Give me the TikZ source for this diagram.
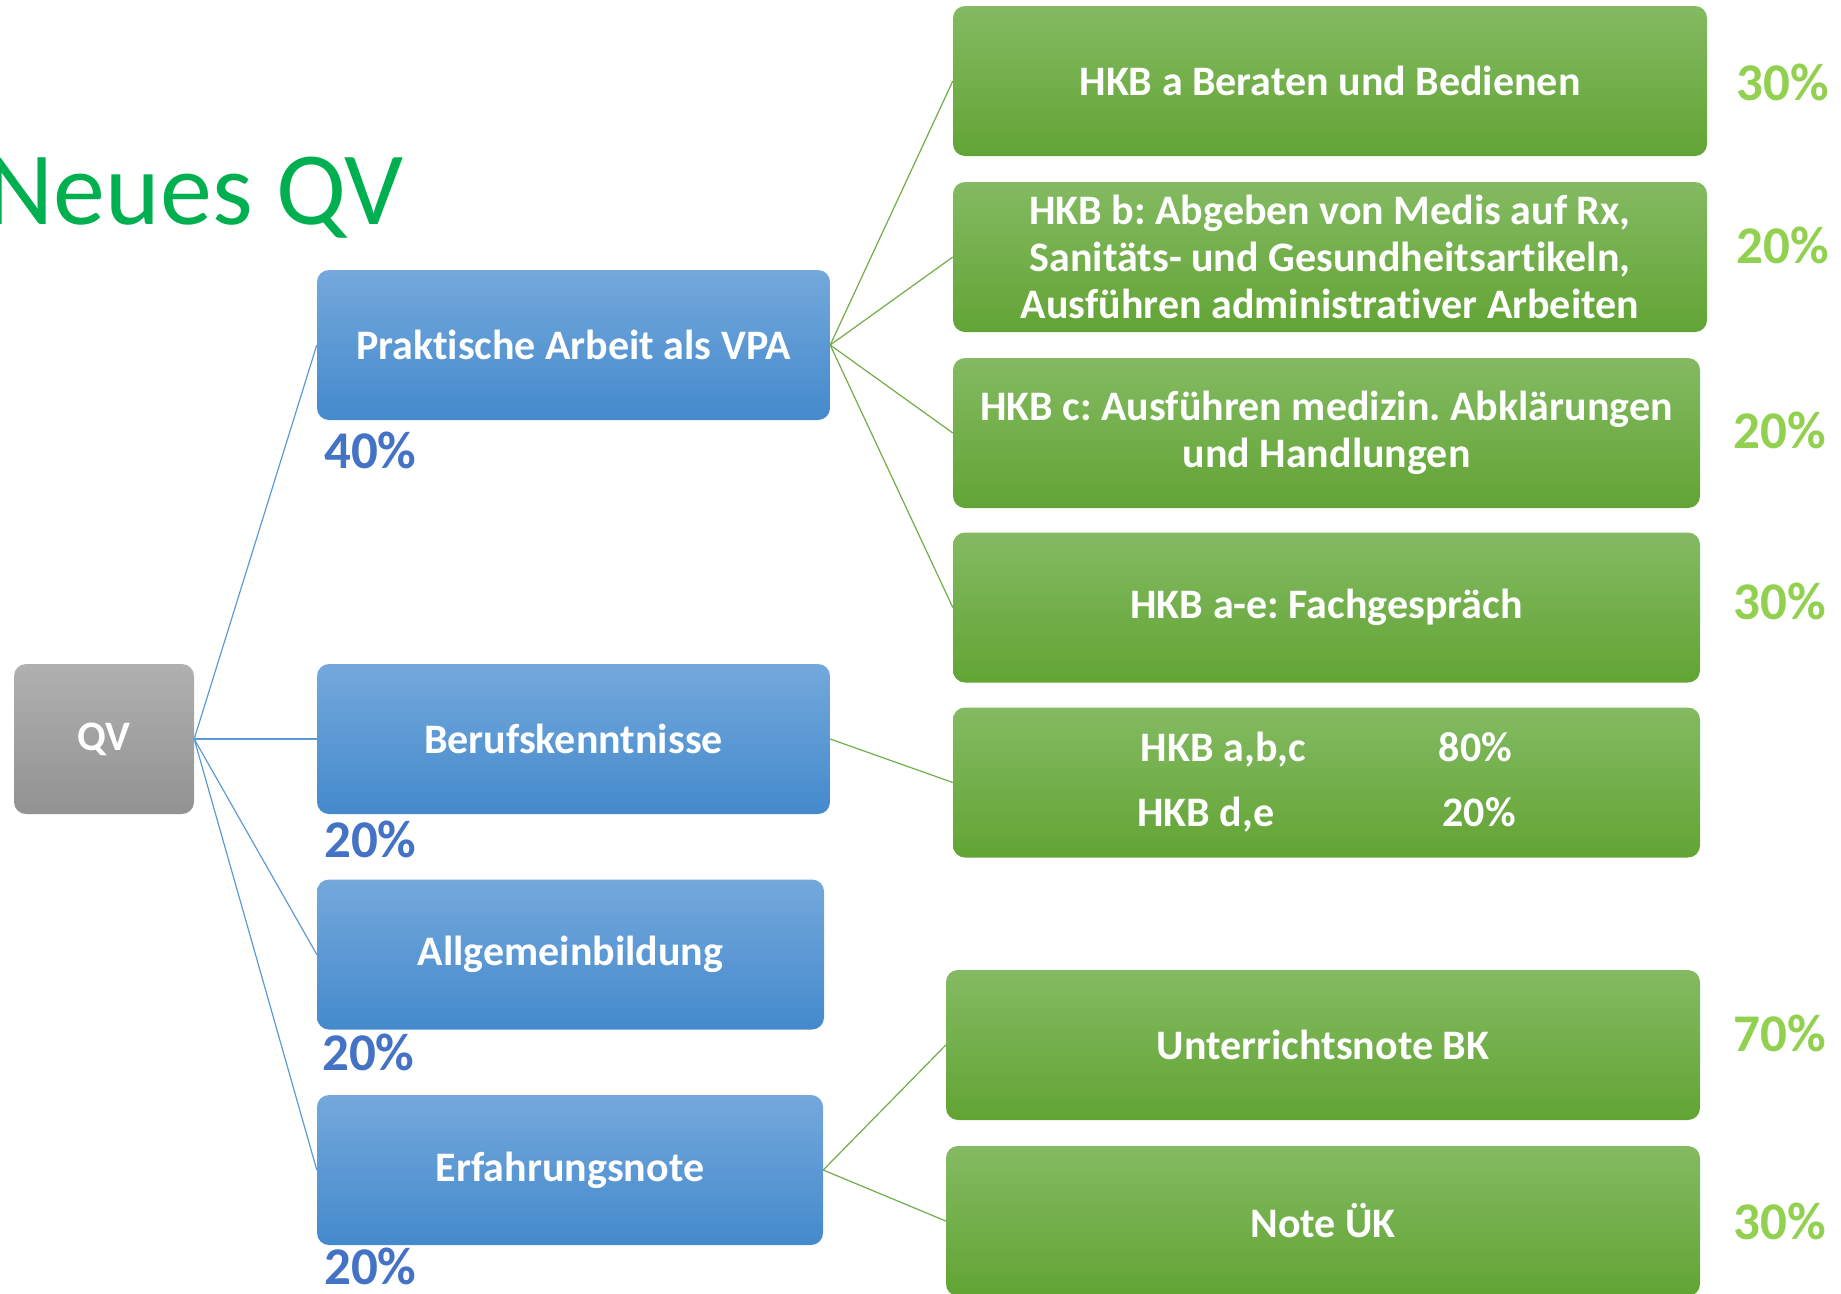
\documentclass[tikz,border=0pt]{standalone}
\usepackage{fontspec}
\setmainfont{Carlito}[Ligatures=NoCommon]
\begin{document}
\frenchspacing
\begin{tikzpicture}[x=1pt,y=-1pt,
  boxtext/.style={font=\fontsize{42}{47}\selectfont\bfseries, text=white, align=center},
  card/.style={boxtext, rounded corners=12pt, minimum height=150pt, inner sep=0pt},
  graycard/.style={card, top color=grayTop, bottom color=grayBot},
  bluecard/.style={card, top color=blueTop, bottom color=blueBot},
  greencard/.style={card, top color=greenTop, bottom color=greenBot},
  bluelink/.style={draw=blueLine, line width=1.2pt},
  greenlink/.style={draw=greenLine, line width=1.2pt},
  bluepct/.style={font=\fontsize{53}{60}\selectfont\bfseries, text=pctBlue, inner sep=0pt, anchor=west},
  greenpct/.style={font=\fontsize{53}{60}\selectfont\bfseries, text=pctGreen, inner sep=0pt},
]
\definecolor{grayTop}{RGB}{176,176,176}
\definecolor{grayBot}{RGB}{146,146,146}
\definecolor{blueTop}{RGB}{116,168,220}
\definecolor{blueBot}{RGB}{68,138,204}
\definecolor{greenTop}{RGB}{132,186,98}
\definecolor{greenBot}{RGB}{98,164,52}
\definecolor{blueLine}{RGB}{91,155,213}
\definecolor{greenLine}{RGB}{112,173,71}
\definecolor{pctBlue}{RGB}{68,114,196}
\definecolor{pctGreen}{RGB}{146,208,80}
\definecolor{titleGreen}{RGB}{0,176,80}

\useasboundingbox (0,0) rectangle (1841,1293);

% title
\node[anchor=base east, inner sep=0pt, text=titleGreen,
      font=\fontsize{104}{110}\selectfont] (title) at (404,224) {Neues QV};

% root
\node[graycard, minimum width=180pt] (qv) at (104,739) {QV};

% first level
\node[bluecard, minimum width=513pt] (prak) at (573.5,345) {Praktische Arbeit als VPA};
\node[bluecard, minimum width=513pt] (beruf) at (573.5,739) {Berufskenntnisse};
\node[bluecard, minimum width=507pt] (allg) at (570.5,954.5) {Allgemeinbildung};
\node[bluecard, minimum width=506pt] (erf) at (570,1170) {Erfahrungsnote};

% weights of the first level
\node[bluepct] (wprak) at (324,450) {40\%};
\node[bluepct] (wberuf) at (324,839) {20\%};
\node[bluepct] (wallg) at (322,1052) {20\%};
\node[bluepct] (werf) at (324,1266) {20\%};

% second level
\node[greencard, minimum width=754pt] (hkba) at (1330,81) {HKB a Beraten und Bedienen};
\node[greencard, minimum width=754pt] (hkbb) at (1330,257)
  {HKB b: Abgeben von Medis auf Rx,\\Sanitäts- und Gesundheitsartikeln,\\Ausführen administrativer Arbeiten};
\node[greencard, minimum width=747pt] (hkbc) at (1326.5,433)
  {HKB c: Ausführen medizin. Abklärungen\\und Handlungen};
\node[greencard, minimum width=747pt] (hkbd) at (1326.5,607.5) {HKB a-e: Fachgespräch};
\node[greencard, minimum width=747pt] (hkbe) at (1326.5,782.5)
  {\makebox[298pt][l]{HKB a,b,c}80\%\\[18pt]\makebox[298pt][l]{HKB d,e}\,20\%};
\node[greencard, minimum width=754pt] (unote) at (1323,1045) {Unterrichtsnote BK};
\node[greencard, minimum width=754pt] (uek) at (1323,1221) {Note ÜK};

% weights of the second level
\node[greenpct] (wa) at (1783,82) {30\%};
\node[greenpct] (wb) at (1783,245) {20\%};
\node[greenpct] (wc) at (1780,430) {20\%};
\node[greenpct] (wd) at (1780,601) {30\%};
\node[greenpct] (wu) at (1780,1033) {70\%};
\node[greenpct] (wk) at (1780,1221) {30\%};

% connectors
\draw[bluelink] (qv.east) -- (prak.west);
\draw[bluelink] (qv.east) -- (beruf.west);
\draw[bluelink] (qv.east) -- (allg.west);
\draw[bluelink] (qv.east) -- (erf.west);

\draw[greenlink] (prak.east) -- (hkba.west);
\draw[greenlink] (prak.east) -- (hkbb.west);
\draw[greenlink] (prak.east) -- (hkbc.west);
\draw[greenlink] (prak.east) -- (hkbd.west);
\draw[greenlink] (beruf.east) -- (hkbe.west);
\draw[greenlink] (erf.east) -- (unote.west);
\draw[greenlink] (erf.east) -- (uek.west);
\end{tikzpicture}
\end{document}
